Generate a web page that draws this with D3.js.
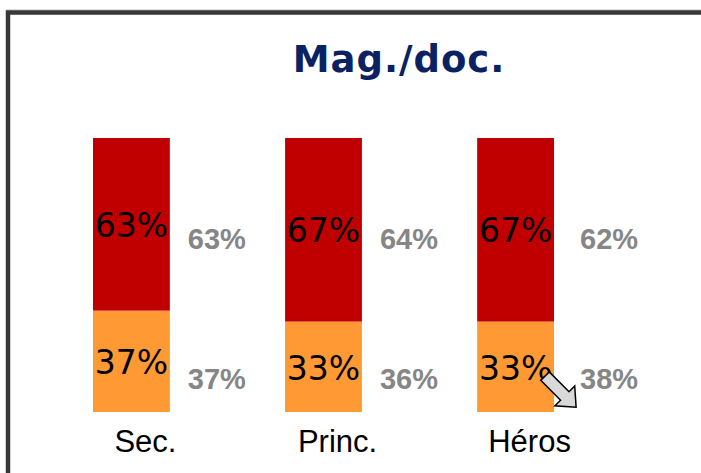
<!DOCTYPE html>
<html>
<head>
<meta charset="utf-8">
<script src="https://cdn.jsdelivr.net/npm/d3@7"></script>
<style>
  body { margin: 0; background: #fff; }
</style>
</head>
<body>
<div id="chart"></div>
<script>
// chart data
var categories = ["Sec.", "Princ.", "Héros"];
var bottomValues = [37, 33, 33];   // orange share
var topValues = [63, 67, 67];      // red share
var compTop = [63, 64, 62];        // grey labels, upper
var compBottom = [37, 36, 38];     // grey labels, lower

var svgWidth = 701;
var svgHeight = 473;

var svg = d3.select("#chart")
  .append("svg")
  .attr("width", svgWidth)
  .attr("height", svgHeight);

// frame
svg.append("line")
  .attr("x1", 6).attr("y1", 10).attr("x2", 701).attr("y2", 10)
  .attr("stroke", "#bbb").attr("stroke-width", 1);
svg.append("rect")
  .attr("x", 8)
  .attr("y", 12.5)
  .attr("width", 720)
  .attr("height", 500)
  .attr("fill", "none")
  .attr("stroke", "#383838")
  .attr("stroke-width", 4.5);

// title
svg.append("text")
  .attr("x", 399)
  .attr("y", 72)
  .attr("text-anchor", "middle")
  .attr("font-family", "DejaVu Sans, Verdana, sans-serif")
  .attr("font-weight", "bold")
  .attr("font-size", "37px")
  .attr("letter-spacing", "1px")
  .attr("fill", "#0b2262")
  .text("Mag./doc.");

var data = categories.map(function(c, i) {
  return { cat: c, bottom: bottomValues[i], top: topValues[i], cTop: compTop[i], cBottom: compBottom[i] };
});

// scales
var xScale = d3.scaleBand()
  .domain(categories)
  .range([93, 554])
  .paddingInner(0.6)
  .paddingOuter(0);

var yScale = d3.scaleLinear()
  .domain([0, 100])
  .range([412, 138]);

var bw = xScale.bandwidth();

// grey labels of the last bar sit a bit further right (room for the arrow)
function greyX(d) {
  var extra = d.cat === "Héros" ? 8 : 0;
  return xScale(d.cat) + bw + 18 + extra;
}

var groups = svg.selectAll(".bar-group")
  .data(data)
  .enter()
  .append("g")
  .attr("class", "bar-group");

// orange part
groups.append("rect")
  .attr("x", d => xScale(d.cat))
  .attr("y", d => yScale(d.bottom))
  .attr("width", bw)
  .attr("height", d => yScale(0) - yScale(d.bottom))
  .attr("fill", "#ff9933");

// red part
groups.append("rect")
  .attr("x", d => xScale(d.cat))
  .attr("y", d => yScale(d.bottom + d.top))
  .attr("width", bw)
  .attr("height", d => yScale(d.bottom) - yScale(d.bottom + d.top))
  .attr("fill", "#c00000");

// labels inside bars
groups.append("text")
  .attr("x", d => xScale(d.cat) + bw / 2)
  .attr("y", d => yScale(d.bottom + d.top / 2) + 12.5)
  .attr("text-anchor", "middle")
  .attr("font-family", "DejaVu Sans, Verdana, sans-serif")
  .attr("font-size", "33px")
  .attr("fill", "#000")
  .text(d => d.top + "%");

groups.append("text")
  .attr("x", d => xScale(d.cat) + bw / 2)
  .attr("y", d => yScale(d.bottom / 2) + 13)
  .attr("text-anchor", "middle")
  .attr("font-family", "DejaVu Sans, Verdana, sans-serif")
  .attr("font-size", "33px")
  .attr("fill", "#000")
  .text(d => d.bottom + "%");

// grey comparison labels
groups.append("text")
  .attr("x", greyX)
  .attr("y", yScale(63) + 10)
  .attr("font-family", "Liberation Sans, Arial, sans-serif")
  .attr("font-weight", "bold")
  .attr("font-size", "29px")
  .attr("fill", "#868686")
  .text(d => d.cTop + "%");

groups.append("text")
  .attr("x", greyX)
  .attr("y", yScale(12) + 10)
  .attr("font-family", "Liberation Sans, Arial, sans-serif")
  .attr("font-weight", "bold")
  .attr("font-size", "29px")
  .attr("fill", "#868686")
  .text(d => d.cBottom + "%");

// category labels
groups.append("text")
  .attr("x", d => xScale(d.cat) + bw / 2 + 14)
  .attr("y", 452)
  .attr("text-anchor", "middle")
  .attr("font-family", "Liberation Sans, Arial, sans-serif")
  .attr("font-size", "31px")
  .attr("fill", "#000")
  .text(d => d.cat);

// arrow near Héros
var heros = xScale("Héros");
var ax = heros + bw - 9;
var ay = yScale(12) - 3;
svg.append("path")
  .attr("d", "M0,-6 L28,-6 L28,-14 L44,0 L28,14 L28,6 L0,6 Z")
  .attr("transform", `translate(${ax}, ${ay}) rotate(45)`)
  .attr("fill", "#d9d9d9")
  .attr("stroke", "#000")
  .attr("stroke-width", 1.5)
  .attr("stroke-linejoin", "miter");
</script>
</body>
</html>
